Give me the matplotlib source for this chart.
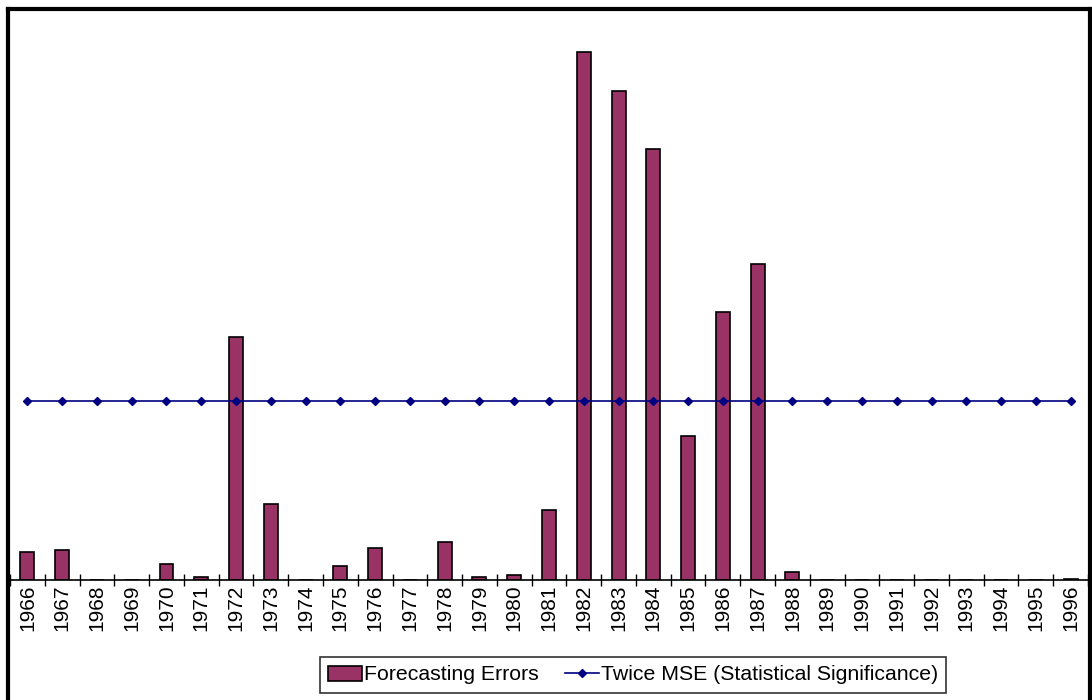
import matplotlib
matplotlib.use("Agg")
import matplotlib.pyplot as plt
from matplotlib.lines import Line2D
import numpy as np

plt.rcParams['font.family'] = ['Liberation Sans', 'DejaVu Sans']

years = [str(y) for y in range(1966, 1997)]
forecast_errors = [28, 30, 0, 0, 16, 3, 243, 76, 0, 14, 32, 0, 38, 3, 5, 70,
                   528, 489, 431, 144, 268, 316, 8, 0, 0, 0, 0, 0, 0, 0, 1.5]
twice_mse = [179] * len(years)

W, H = 1092, 700
fig = plt.figure(figsize=(W / 100, H / 100), dpi=100)
ax = fig.add_axes([10 / W, (H - 580) / H, (1088 - 10) / W, (580 - 10) / H])

x = np.arange(len(years))
bars = ax.bar(x, forecast_errors, width=0.4, color='#993366', edgecolor='black',
              linewidth=1.2, label='Forecasting Errors', zorder=2)
line, = ax.plot(x, twice_mse, color='#000080', linewidth=1.2, marker='D', markersize=4.5,
                label='Twice MSE (Statistical Significance)', zorder=3)

ax.set_xlim(-0.5, len(years) - 0.5)
ax.set_ylim(0, 570)
ax.set_yticks([])
ax.set_xticks(x)
ax.set_xticklabels(years, rotation=90, fontsize=15)
ax.tick_params(axis='x', which='major', length=0, pad=3)
ax.set_xticks(np.arange(-0.5, len(years), 1), minor=True)
ax.tick_params(axis='x', which='minor', direction='inout', length=8, width=1)
for s in ['top', 'right', 'left']:
    ax.spines[s].set_visible(False)
ax.spines['bottom'].set_linewidth(1.2)

leg = fig.legend(handles=[bars, line], loc='center', ncol=2,
                 bbox_to_anchor=(633 / W, 1 - 675 / H), fontsize=15.3,
                 frameon=True, fancybox=False, edgecolor='black',
                 handlelength=1.6, handletextpad=0.1, columnspacing=1.2,
                 borderpad=0.4)
leg.get_frame().set_linewidth(1.2)

# figure border (left, top, right)
for xs, ys in [([8 / W, 8 / W], [0, 1 - 8.5 / H]),
               ([8 / W, 1090 / W], [1 - 8.5 / H, 1 - 8.5 / H]),
               ([1090 / W, 1090 / W], [0, 1 - 8.5 / H])]:
    fig.add_artist(Line2D(xs, ys, transform=fig.transFigure, color='black',
                          linewidth=3, solid_capstyle='projecting'))

fig.savefig('out.png', dpi=100)
